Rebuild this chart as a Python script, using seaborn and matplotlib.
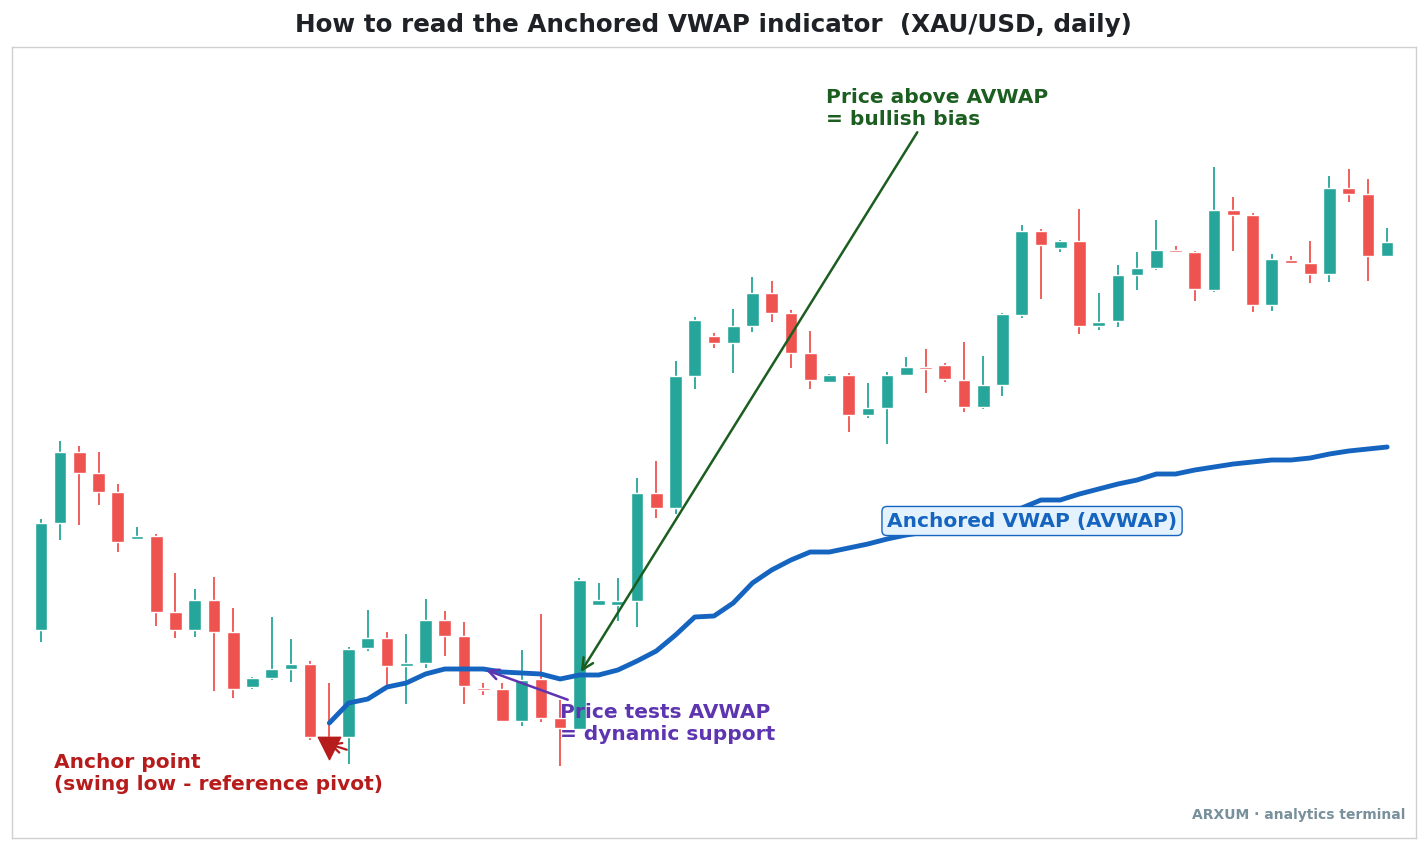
import matplotlib
matplotlib.use("Agg")
import matplotlib.pyplot as plt
import seaborn as sns
import numpy as np
import pandas as pd

# Values (vertical screen scale, smaller = higher price)
opens = [630,523,452,473,492,539,536,612,630,600,632,687,678,669,664,737,737,648,638,666,663,620,636,688,689,721,679,718,729,605,605,601,493,508,376,336,343,326,293,313,353,382,375,415,408,375,367,365,380,407,385,315,231,248,241,326,321,275,268,250,252,290,210,215,305,260,263,274,188,194,256]
closes = [523,452,473,492,542,536,612,630,600,632,689,678,669,664,737,739,649,638,666,663,620,636,686,690,721,680,718,728,580,600,601,493,508,376,320,343,326,293,313,353,380,375,415,408,375,367,369,379,407,385,314,231,245,241,326,322,275,268,250,252,289,210,215,305,259,263,274,188,194,256,242]
highs = [519,441,446,452,484,527,534,573,589,577,608,677,617,639,661,683,647,610,632,634,599,611,622,683,683,650,614,700,578,583,578,478,461,361,317,333,309,277,281,310,331,374,373,383,372,357,349,363,342,356,313,225,229,240,209,293,265,252,220,246,251,167,197,213,254,256,241,176,169,179,228]
lows = [642,540,525,505,552,540,626,638,637,691,698,689,680,682,740,745,764,651,685,704,668,656,704,695,722,726,722,766,730,606,621,627,518,514,389,348,373,332,322,368,389,383,432,418,444,376,393,382,412,409,396,318,299,252,334,330,327,290,270,253,301,292,251,312,311,264,283,282,202,281,257]
anchor_index = 15
avwap = [723,703,699,687,683,674,669,669,669,672,673,674,679,675,675,670,661,651,635,617,616,603,583,570,560,552,552,548,544,539,535,532,528,523,518,513,508,500,500,494,489,484,480,474,474,470,467,464,462,460,460,458,454,451,449,447]

sns.set_theme(style="white")
plt.rcParams['font.family'] = ['DejaVu Sans']

fig = plt.figure(figsize=(14.27, 8.51), dpi=100)
ax = fig.add_axes([12/1427, 1-838/851, 1404/1427, 791/851])

idx = np.arange(len(opens))
green, red = "#26a69a", "#ef5350"
cols = [green if c <= o else red for o, c in zip(opens, closes)]
ax.vlines(idx, highs, lows, colors=cols, lw=1.3, zorder=2)
bottoms = [max(o, c) for o, c in zip(opens, closes)]
heights = [max(abs(o - c), 2) for o, c in zip(opens, closes)]
ax.bar(idx, [-h for h in heights], bottom=bottoms, width=0.66, color=cols, zorder=3)

df = pd.DataFrame({"i": np.arange(anchor_index, anchor_index + len(avwap)), "v": avwap})
sns.lineplot(data=df, x="i", y="v", ax=ax, color="#1565c0", lw=3.5, zorder=4)

ax.set_xlim(-1.5, 71.5)
ax.set_ylim(838, 47)
ax.set_xticks([]); ax.set_yticks([])
ax.set_xlabel(""); ax.set_ylabel("")
for s in ax.spines.values():
    s.set_color("#d0d0d0"); s.set_linewidth(1)

fig.suptitle("How to read the Anchored VWAP indicator  (XAU/USD, daily)", y=0.985,
             fontsize=17.7, fontweight="bold", color="#1e2226")

def px(x):  # screen x -> index
    return (x - 41) / 19.23

fs = 14.5
ax.annotate("Price above AVWAP\n= bullish bias", xy=(px(581), 672), xytext=(px(826), 88),
            fontsize=fs, fontweight="bold", color="#1b5e20", va="top", ha="left",
            arrowprops=dict(arrowstyle="->", color="#1b5e20", lw=1.8, mutation_scale=20,
                            shrinkA=0, shrinkB=0, relpos=(0.42, 0)), zorder=6)
ax.annotate("Price tests AVWAP\n= dynamic support", xy=(px(486), 670), xytext=(px(560), 703),
            fontsize=fs, fontweight="bold", color="#5e35b1", va="top", ha="left",
            arrowprops=dict(arrowstyle="->", color="#5e35b1", lw=1.8, mutation_scale=18,
                            shrinkA=0, shrinkB=0, relpos=(0.12, 0.92)), zorder=6)
ax.text(px(887), 521, "Anchored VWAP (AVWAP)", fontsize=fs, fontweight="bold", color="#1565c0",
        va="center", ha="left",
        bbox=dict(boxstyle="round,pad=0.25", fc="#e3f2fd", ec="#1565c0", lw=1), zorder=6)
ax.scatter([anchor_index], [748], marker="v", s=260, color="#b71c1c", zorder=6)
ax.annotate("Anchor point\n(swing low - reference pivot)", xy=(px(329), 744), xytext=(px(54), 753),
            fontsize=fs, fontweight="bold", color="#b71c1c", va="top", ha="left",
            arrowprops=dict(arrowstyle="->", color="#b71c1c", lw=1.6, mutation_scale=18,
                            shrinkA=0, shrinkB=0, relpos=(0.98, 0.85)), zorder=6)
ax.text(px(1405), 815, "ARXUM · analytics terminal", fontsize=10, fontweight="bold",
        color="#78909c", ha="right", va="center")

fig.savefig("out.png", dpi=100)
